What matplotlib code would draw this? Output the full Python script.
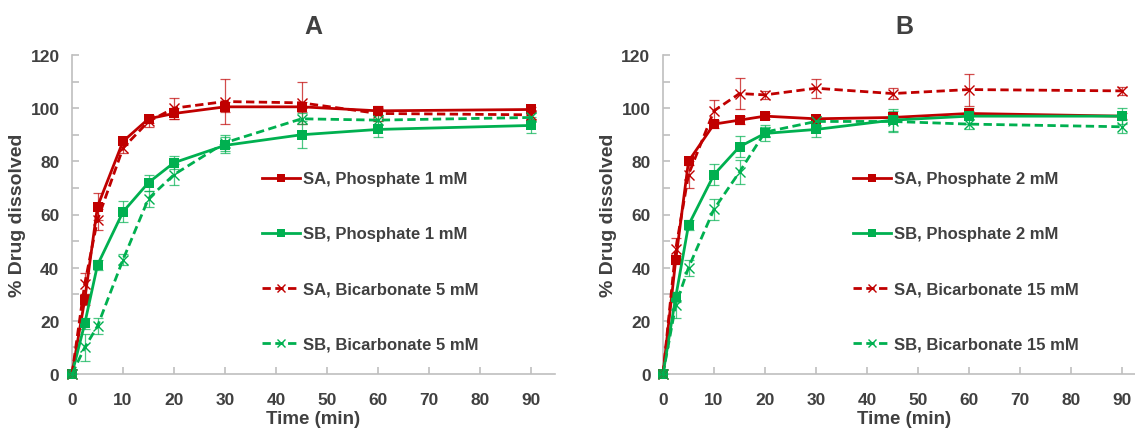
import matplotlib
matplotlib.use("Agg")
import matplotlib.pyplot as plt
import numpy as np

plt.rcParams['font.family'] = ['Liberation Sans', 'DejaVu Sans']

time = [0, 2.5, 5, 10, 15, 20, 30, 45, 60, 90]

# Panel A
A_labels = ["SA, Phosphate 1 mM", "SB, Phosphate 1 mM", "SA, Bicarbonate 5 mM", "SB, Bicarbonate 5 mM"]
A_sa_p = [0, 28, 63, 87.5, 96, 98, 100.5, 100.5, 99, 99.5]
A_sa_p_err = [0, 2, 5, 1.5, 1.5, 2, 2, 2, 1.5, 1]
A_sb_p = [0, 19, 41, 61, 72, 79.5, 86, 90, 92, 93.5]
A_sb_p_err = [0, 2, 2, 4, 3, 2.5, 3, 5, 3, 3]
A_sa_b = [0, 34, 58, 85, 95, 100, 102.5, 102, 98, 97.5]
A_sa_b_err = [0, 4, 4, 2, 2, 4, 8.5, 8, 3, 1.5]
A_sb_b = [0, 10, 18, 43, 66, 75, 87, 96, 95.5, 96.5]
A_sb_b_err = [0, 5, 3, 2, 3, 4, 3, 2, 2, 1.5]

# Panel B
B_labels = ["SA, Phosphate 2 mM", "SB, Phosphate 2 mM", "SA, Bicarbonate 15 mM", "SB, Bicarbonate 15 mM"]
B_sa_p = [0, 43, 80, 94, 95.5, 97, 96, 96.5, 98, 97]
B_sa_p_err = [0, 1.5, 1.5, 1.5, 1.5, 1, 1, 1, 1, 1]
B_sb_p = [0, 29, 56, 75, 85.5, 90.5, 92, 95.5, 97, 97]
B_sb_p_err = [0, 2, 2, 4, 4, 3, 3, 4, 3, 3]
B_sa_b = [0, 47, 75, 99, 105.5, 105, 107.5, 105.5, 107, 106.5]
B_sa_b_err = [0, 4, 5, 4, 6, 1.5, 3.5, 2, 6, 1.5]
B_sb_b = [0, 26, 40, 62, 76, 91, 95, 95, 94, 93]
B_sb_b_err = [0, 5, 3, 4, 4.5, 2, 2, 4, 2, 2.5]

RED = '#C00000'
GREEN = '#00B050'
TXT = '#404040'

fig = plt.figure(figsize=(11.35, 4.35), dpi=100)
W, H = 1135, 435

def make_ax(x0, x1, y0, y1):
    return fig.add_axes([x0 / W, 1 - y1 / H, (x1 - x0) / W, (y1 - y0) / H])

def draw(ax, title, labels, series, xmax, leg_anchor):
    handles = []
    for (y, e, color, ls, marker), lab in zip(series, labels):
        if marker == 's':
            ms, mew = 7, 0
        else:
            ms, mew = 7, 1.0
        ax.errorbar(time, y, yerr=e, color=color, ecolor=color, elinewidth=0.9,
                    capsize=3.5, capthick=0.9, zorder=2, fmt='none', alpha=0.7)
        ln, = ax.plot(time, y, color=color, ls=ls, lw=2, marker=marker, ms=ms,
                      mew=mew, clip_on=False, zorder=3,
                      dashes=(3, 1.6) if ls == '--' else (None, None))
        handles.append(ln)
    ax.set_xlim(0, xmax)
    ax.set_ylim(0, 120)
    ax.set_xticks(range(0, 91, 10))
    ax.set_yticks(range(0, 121, 20))
    ax.yaxis.set_minor_locator(matplotlib.ticker.MultipleLocator(10))
    for s in ['top', 'right']:
        ax.spines[s].set_visible(False)
    for s in ['left', 'bottom']:
        ax.spines[s].set_color('#BFBFBF')
        ax.spines[s].set_linewidth(1.2)
    ax.tick_params(axis='both', which='both', direction='in', color='#BFBFBF',
                   labelsize=12.5, labelcolor=TXT, width=1.2)
    ax.tick_params(axis='both', which='major', length=5)
    ax.tick_params(axis='y', which='major', pad=9)
    ax.tick_params(axis='x', which='major', pad=13)
    ax.tick_params(axis='both', which='minor', length=5)
    ax.tick_params(axis='x', which='minor', length=0)
    for t in ax.get_xticklabels() + ax.get_yticklabels():
        t.set_fontweight('bold')
    ax.set_xlabel('Time (min)', fontsize=13.5, fontweight='bold', color=TXT, labelpad=2)
    ax.set_ylabel('% Drug dissolved', fontsize=14, fontweight='bold', color=TXT)
    ax.yaxis.set_label_coords(-0.095, 0.5)
    ax.set_title(title, fontsize=18, fontweight='bold', color=TXT, pad=16)
    leg = ax.legend(handles, labels, loc='upper left', bbox_to_anchor=leg_anchor,
                    frameon=False, fontsize=12, handlelength=2.3, handletextpad=0.15,
                    labelspacing=2.4, borderpad=0, borderaxespad=0, markerscale=0.75)
    for t in leg.get_texts():
        t.set_color(TXT)
        t.set_fontweight('bold')

axA = make_ax(72, 555, 56, 375)
draw(axA, 'A', A_labels, [
    (A_sa_p, A_sa_p_err, RED, '-', 's'),
    (A_sb_p, A_sb_p_err, GREEN, '-', 's'),
    (A_sa_b, A_sa_b_err, RED, '--', 'x'),
    (A_sb_b, A_sb_b_err, GREEN, '--', 'x'),
], 94.7, (0.393, 0.635))

axB = make_ax(663, 1146, 56, 375)
draw(axB, 'B', B_labels, [
    (B_sa_p, B_sa_p_err, RED, '-', 's'),
    (B_sb_p, B_sb_p_err, GREEN, '-', 's'),
    (B_sa_b, B_sa_b_err, RED, '--', 'x'),
    (B_sb_b, B_sb_b_err, GREEN, '--', 'x'),
], 94.7, (0.393, 0.635))

fig.savefig('out.png', dpi=100)
